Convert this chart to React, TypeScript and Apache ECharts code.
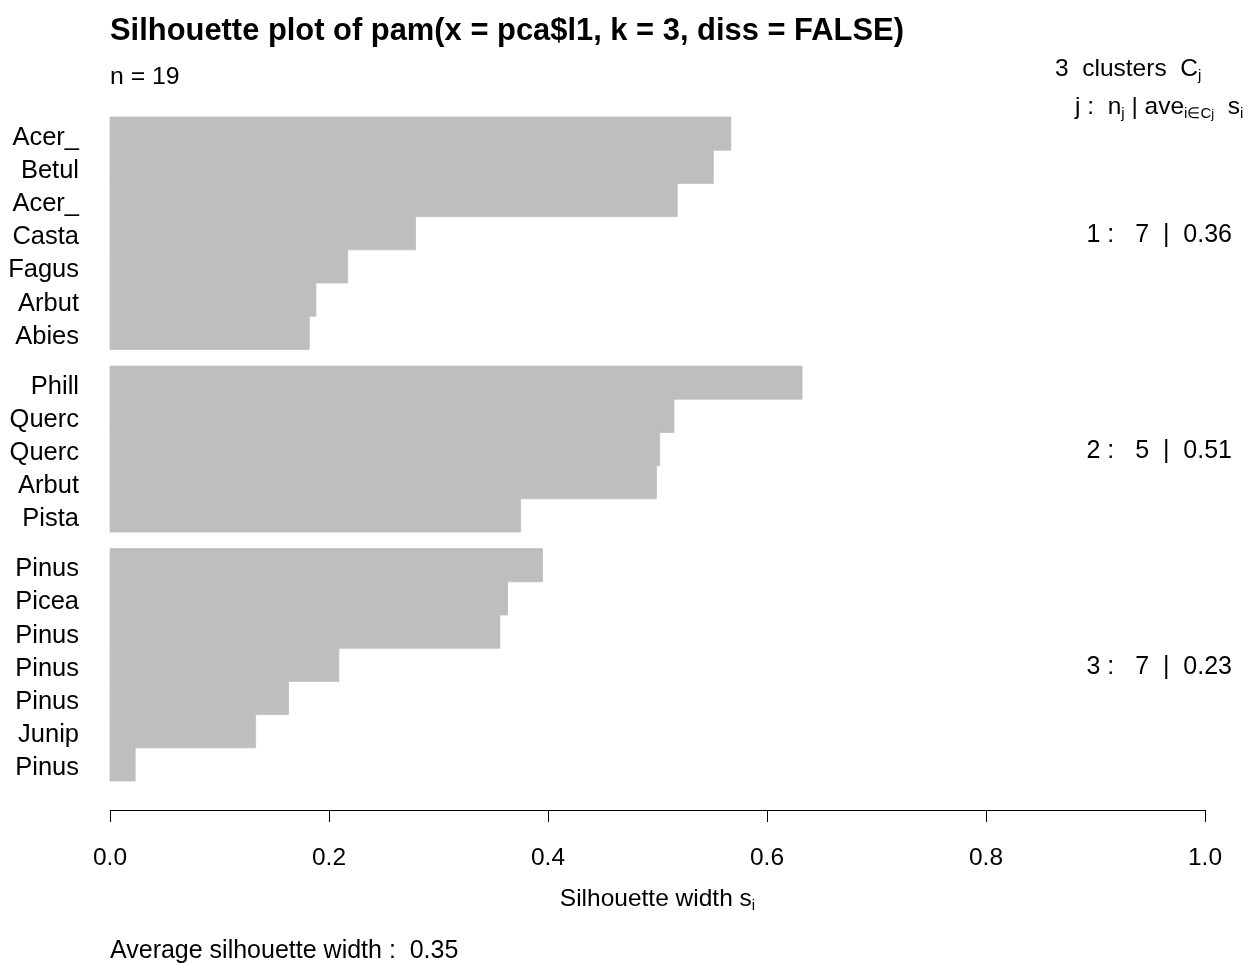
import React, { useEffect, useRef } from "react";
import * as echarts from "echarts";

const labels = ["Acer_", "Betul", "Acer_", "Casta", "Fagus", "Arbut", "Abies", "Phill", "Querc", "Querc", "Arbut", "Pista", "Pinus", "Picea", "Pinus", "Pinus", "Pinus", "Junip", "Pinus"];
const widths = [0.567, 0.551, 0.518, 0.279, 0.217, 0.188, 0.182, 0.632, 0.515, 0.502, 0.499, 0.375, 0.395, 0.363, 0.356, 0.209, 0.163, 0.133, 0.023];
const clusters = [1, 1, 1, 1, 1, 1, 1, 2, 2, 2, 2, 2, 3, 3, 3, 3, 3, 3, 3];
const clusterIds = [1, 2, 3];
const clusterSizes = [7, 5, 7];
const clusterAvg = ["0.36", "0.51", "0.23"];
const averageWidth = "0.35";
const nObs = 19;

const FONT = "'Liberation Sans', Arial, Helvetica, sans-serif";
const GAP = 0.5;

export default function App() {
  const ref = useRef<HTMLDivElement>(null);
  useEffect(() => {
    if (!ref.current) return;
    const chart = echarts.init(ref.current, null, { renderer: "svg" });
    const positions = clusters.map((c, i) => i + GAP * (c - 1));
    const barData = widths.map((w, i) => [w, positions[i]]);
    const clusterData = clusterIds.map((c) => {
      const first = clusters.indexOf(c);
      const n = clusterSizes[clusterIds.indexOf(c)];
      return [1, positions[first] + n / 2];
    });
    const total = positions[positions.length - 1] + 1;
    const rich = {
      m: { fontSize: 24.5, fontFamily: FONT, color: "#000", lineHeight: 30 },
      s: { fontSize: 15, fontFamily: FONT, color: "#000", lineHeight: 12, verticalAlign: "bottom" },
      ss: { fontSize: 13, fontFamily: FONT, color: "#000", lineHeight: 8, verticalAlign: "bottom" },
    };
    chart.setOption({
      animation: false,
      grid: { left: 110, right: 47, top: 117, height: 664, containLabel: false },
      xAxis: {
        type: "value",
        position: "bottom",
        min: 0,
        max: 1,
        interval: 0.2,
        offset: 29,
        axisLine: { show: true, onZero: false, lineStyle: { color: "#000", width: 1 } },
        axisTick: { show: true, length: 12, lineStyle: { color: "#000" } },
        axisLabel: {
          margin: 34,
          fontSize: 24.5,
          fontFamily: FONT,
          color: "#000",
          formatter: (v: number) => v.toFixed(1),
        },
        splitLine: { show: false },
        name: "{m|Silhouette width s}{s|i}",
        nameLocation: "middle",
        nameGap: 72,
        nameTextStyle: { rich },
      },
      yAxis: { type: "value", min: 0, max: total, inverse: true, show: false },
      series: [
        {
          type: "custom",
          data: barData,
          encode: { x: 0, y: 1 },
          renderItem: (params: any, api: any) => {
            const w = api.value(0);
            const p = api.value(1);
            const a = api.coord([0, p]);
            const b = api.coord([w, p + 1]);
            return {
              type: "group",
              children: [
                {
                  type: "rect",
                  shape: { x: a[0], y: a[1], width: b[0] - a[0], height: b[1] - a[1] },
                  style: { fill: "#bebebe", stroke: "#bebebe", lineWidth: 0.8 },
                },
                {
                  type: "text",
                  x: a[0] - 31,
                  y: (a[1] + b[1]) / 2 + 2,
                  style: {
                    text: labels[params.dataIndex],
                    align: "right",
                    verticalAlign: "middle",
                    fontSize: 25.5,
                    fontFamily: FONT,
                    fill: "#000",
                  },
                },
              ],
            };
          },
        },
        {
          type: "custom",
          data: clusterData,
          encode: { x: 0, y: 1 },
          renderItem: (params: any, api: any) => {
            const pt = api.coord([api.value(0), api.value(1)]);
            const i = params.dataIndex;
            return {
              type: "text",
              x: pt[0] + 27,
              y: pt[1],
              style: {
                text: `${clusterIds[i]} :   ${clusterSizes[i]}  |  ${clusterAvg[i]}`,
                align: "right",
                verticalAlign: "middle",
                fontSize: 25,
                fontFamily: FONT,
                fill: "#000",
              },
            };
          },
        },
      ],
      graphic: [
        {
          type: "text",
          x: 110,
          y: 29,
          style: {
            text: "Silhouette plot of pam(x = pca$l1, k = 3, diss = FALSE)",
            fontSize: 30.9,
            fontWeight: "bold",
            fontFamily: FONT,
            fill: "#000",
            align: "left",
            verticalAlign: "middle",
          },
        },
        {
          type: "text",
          x: 110,
          y: 75,
          style: {
            text: `n = ${nObs}`,
            fontSize: 24.8,
            fontFamily: FONT,
            fill: "#000",
            align: "left",
            verticalAlign: "middle",
          },
        },
        {
          type: "text",
          x: 1055,
          y: 67,
          style: {
            text: `{m|${clusterIds.length}  clusters  C}{s|j}`,
            rich,
            align: "left",
            verticalAlign: "middle",
          },
        },
        {
          type: "text",
          x: 1075,
          y: 105,
          style: {
            text: "{m|j :  n}{s|j}{m| | ave}{s|i∈C}{ss|j}{m|  s}{s|i}",
            rich,
            align: "left",
            verticalAlign: "middle",
          },
        },
        {
          type: "text",
          x: 110,
          y: 949,
          style: {
            text: `Average silhouette width :  ${averageWidth}`,
            fontSize: 25,
            fontFamily: FONT,
            fill: "#000",
            align: "left",
            verticalAlign: "middle",
          },
        },
      ],
    });
    return () => chart.dispose();
  }, []);
  return <div ref={ref} style={{ position: "fixed", left: 0, top: 0, width: 1252, height: 965 }} />;
}
